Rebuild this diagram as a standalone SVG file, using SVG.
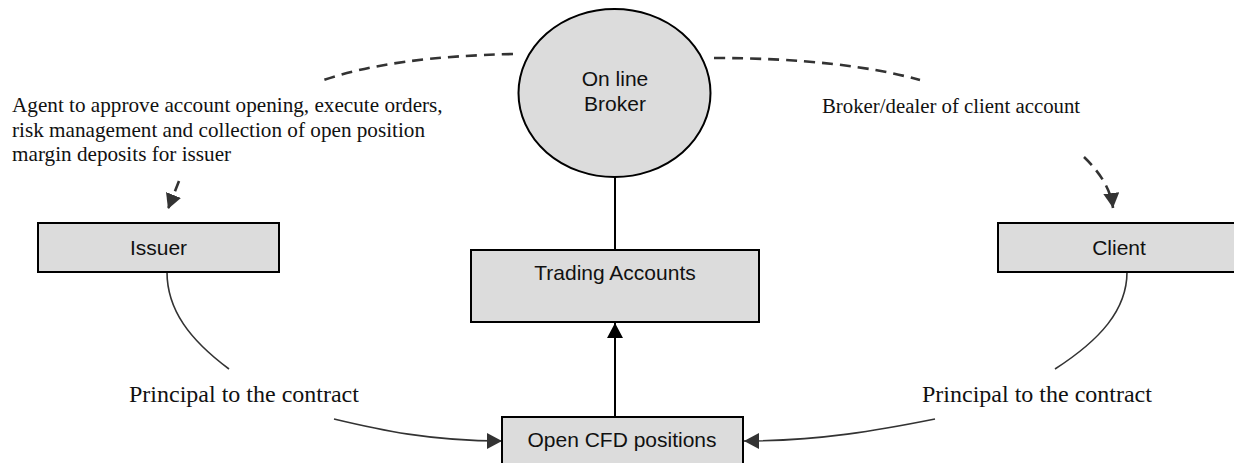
<svg xmlns="http://www.w3.org/2000/svg" width="1234" height="463" viewBox="0 0 1234 463">
<defs>
<marker id="ah-gray" markerUnits="userSpaceOnUse" markerWidth="16" markerHeight="16" refX="15" refY="8" orient="auto"><path d="M0,0 L15,8 L0,16 z" fill="#333"/></marker>
<marker id="ah-black" markerUnits="userSpaceOnUse" markerWidth="16" markerHeight="16" refX="15" refY="8" orient="auto"><path d="M0,0 L15,8 L0,16 z" fill="#000"/></marker>
</defs>
<style>
.box{fill:#dcdcdc;stroke:#000;stroke-width:2}
.sans{font-family:"Liberation Sans",Arial,sans-serif;font-size:21px;fill:#111;text-anchor:middle}
.serif{font-family:"Liberation Serif","Times New Roman",serif;fill:#111}
.dash{fill:none;stroke:#333;stroke-width:2.6;stroke-dasharray:11 7}
.curve{fill:none;stroke:#333;stroke-width:1.6}
.solid{fill:none;stroke:#000;stroke-width:2}
</style>
<rect width="1234" height="463" fill="#fff"/>
<g id="connectors">
<path class="dash" d="M513,54 C430,56 370,64 321,81"/>
<path class="dash" d="M179,181 L168,209" marker-end="url(#ah-gray)"/>
<path class="dash" d="M714,58 C800,58 870,66 920,80"/>
<path class="dash" d="M1084,157 Q1110,182 1113,208" marker-end="url(#ah-gray)"/>
<path class="solid" d="M615,177 L615,250"/>
<path class="solid" d="M615,417 L615,323" marker-end="url(#ah-black)"/>
<path class="curve" d="M167,272 C167,310 190,340 229,369"/>
<path class="curve" d="M334,419 C380,430 430,441 502,441" marker-end="url(#ah-gray)"/>
<path class="curve" d="M1127,272 C1127,310 1100,340 1055,369"/>
<path class="curve" d="M935,419 C880,430 820,441 744,441" marker-end="url(#ah-gray)"/>
</g>
<g id="broker">
<ellipse cx="614.5" cy="93" rx="96" ry="84" class="box"/>
<text class="sans" x="615" y="86">On line</text>
<text class="sans" x="615" y="111">Broker</text>
</g>
<g id="issuer">
<rect class="box" x="38" y="223" width="241" height="49"/>
<text class="sans" x="158.5" y="255">Issuer</text>
</g>
<g id="client">
<rect class="box" x="998" y="223" width="241" height="49"/>
<text class="sans" x="1119" y="255">Client</text>
</g>
<g id="trading-accounts">
<rect class="box" x="471" y="250" width="288" height="72"/>
<text class="sans" x="615" y="280">Trading Accounts</text>
</g>
<g id="open-cfd">
<rect class="box" x="502" y="417" width="241" height="50"/>
<text class="sans" x="622" y="447">Open CFD positions</text>
</g>
<g id="labels" class="serif">
<text x="12" y="112" font-size="21.2">Agent to approve account opening, execute orders,</text>
<text x="12" y="137" font-size="21.2">risk management and collection of open position</text>
<text x="12" y="161" font-size="21.2">margin deposits for issuer</text>
<text x="822" y="113" font-size="20.8">Broker/dealer of client account</text>
<text x="129" y="402" font-size="24">Principal to the contract</text>
<text x="922" y="402" font-size="24">Principal to the contract</text>
</g>
</svg>
